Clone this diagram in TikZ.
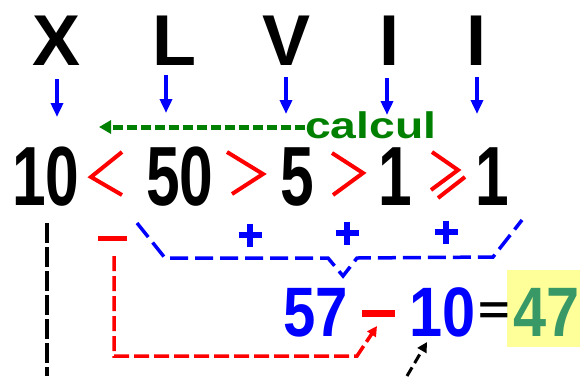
\documentclass[tikz,border=0pt]{standalone}
\usepackage{fontspec}
\usepackage{graphicx}
\setmainfont{Liberation Sans}
\usetikzlibrary{arrows.meta}
\definecolor{myblue}{RGB}{0,0,255}
\definecolor{mygreen}{RGB}{0,128,0}
\definecolor{resgreen}{RGB}{56,152,102}
\definecolor{lightyel}{RGB}{255,255,153}
\begin{document}
\begin{tikzpicture}[x=1pt,y=-1pt,
  toplet/.style={font=\fontsize{72}{72}\selectfont\bfseries, inner sep=0pt, anchor=base},
  bigdig/.style={font=\fontsize{84}{84}\selectfont\bfseries, inner sep=0pt, anchor=base},
  resdig/.style={font=\fontsize{70}{70}\selectfont\bfseries, inner sep=0pt, anchor=base},
  downarr/.style={draw=myblue, line width=3.5pt, -{Triangle[width=12pt,length=14pt]}},
  relsign/.style={draw=red, line width=4pt},
  plussign/.style={draw=myblue, line width=6pt},
  minussign/.style={fill=red},
  bracepath/.style={draw=myblue, line width=3.5pt, dash pattern=on 18pt off 7pt},
  redpath/.style={draw=red, line width=3.5pt, dash pattern=on 15pt off 5pt, -{Triangle[width=10pt,length=10pt]}},
  blackvert/.style={draw=black, line width=4pt, dash pattern=on 20pt off 4pt},
  blackarr/.style={draw=black, line width=3pt, dash pattern=on 10pt off 5pt, -{Triangle[width=10pt,length=10pt]}},
  greenarr/.style={draw=mygreen, line width=5pt, dash pattern=on 10pt off 4pt, -{Triangle[width=13pt,length=12pt]}},
]
\useasboundingbox[fill=white] (0,0) rectangle (580,376);

% top roman letters
\node[toplet] (X)  at (57,65)  {X};
\node[toplet] (L)  at (174,65) {L};
\node[toplet] (V)  at (287,65) {V};
\node[toplet] (I1) at (389,65) {I};
\node[toplet] (I2) at (476,65) {I};

% arrow end coordinates
\coordinate (aX) at (57,117);
\coordinate (aL) at (166,113);
\coordinate (aV) at (286,114);
\coordinate (aI1) at (387,115);
\coordinate (aI2) at (477,114);
\draw[downarr] (57,79) -- (aX);
\draw[downarr] (166,75) -- (aL);
\draw[downarr] (286,77) -- (aV);
\draw[downarr] (387,78) -- (aI1);
\draw[downarr] (477,77) -- (aI2);

% calcul
\node[font=\fontsize{37}{37}\selectfont\bfseries, text=mygreen, inner sep=0pt, anchor=base west] (calc) at (305,138) {\scalebox{1.25}[1]{calcul}};
\coordinate (gend) at (99,127);
\draw[greenarr] (calc.west |- gend) -- (gend);

% middle digits
\node[bigdig] (d10) at (46,205) {\scalebox{0.72}[1]{10}};
\node[bigdig] (d50) at (180,205) {\scalebox{0.72}[1]{50}};
\node[bigdig] (d5)  at (297,205) {\scalebox{0.72}[1]{5}};
\node[bigdig] (d1a) at (395,205) {\scalebox{0.72}[1]{1}};
\node[bigdig] (d1b) at (492,205) {\scalebox{0.72}[1]{1}};

% relation signs
\draw[relsign] (122,152) -- (91,177) -- (122,195);
\draw[relsign] (227,152) -- (263,174) -- (232,194);
\draw[relsign] (332,153) -- (363,173) -- (333,195);
\draw[relsign] (432,152) -- (458,170) -- (431,190);
\draw[relsign] (438,198) -- (465,177);

% black dashed vertical
\coordinate (vbot) at (47,376);
\draw[blackvert] (47,223) -- (vbot);

% red minus and blue pluses
\fill[minussign] (98,235.5) rectangle (127,240.5);
\draw[plussign] (238.5,235) -- (261.5,235) (250,223.5) -- (250,246.5);
\draw[plussign] (335.5,233) -- (358.5,233) (347,221.5) -- (347,244.5);
\draw[plussign] (434.5,232) -- (457.5,232) (446,220.5) -- (446,243.5);

% blue brace
\draw[bracepath] (137,223) -- (165,258) -- (328,258) -- (343,276) -- (357,258) -- (493,257) -- (522,220);

% result line
\fill[lightyel] (507,270) rectangle (585,347);
\node[resdig, text=myblue] (r57) at (315.5,336) {\scalebox{0.83}[1]{57}};
\fill[minussign] (362,309.5) rectangle (395,316.5);
\node[resdig, text=myblue] (r10) at (443,336) {\scalebox{0.85}[1]{10}};
\node[font=\fontsize{40}{40}\selectfont\bfseries, inner sep=0pt, anchor=base] (eq) at (494,323) {\scalebox{1.35}[1]{=}};
\node[resdig, text=resgreen] (r47) at (547,336) {\scalebox{0.85}[1]{47}};

% red dashed path
\coordinate (rtip) at (377,326);
\draw[redpath] (114,256) -- (114,356) -- (357,356) -- (rtip);

% black dashed arrow
\coordinate (btip) at (427,342);
\draw[blackarr] (407,376) -- (btip);
\end{tikzpicture}
\end{document}
